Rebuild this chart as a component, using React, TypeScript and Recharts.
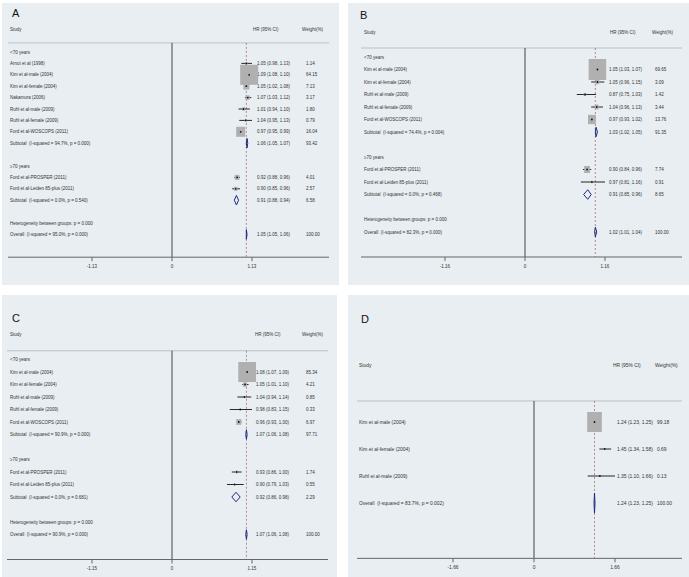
import React from "react";
import { ScatterChart, Scatter, XAxis, YAxis, ReferenceLine, ErrorBar } from "recharts";

// ---------------- Panel A ----------------
const rowsA = [
  "<70 years",
  "Arnot et al (1998)",
  "Kim et al-male (2004)",
  "Kim et al-female (2004)",
  "Nakamura (2006)",
  "Ruhl et al-male (2009)",
  "Ruhl et al-female (2009)",
  "Ford et al-WOSCOPS (2011)",
  "Subtotal  (I-squared = 94.7%, p = 0.000)",
  "",
  "≥70 years",
  "Ford et al-PROSPER (2011)",
  "Ford et al-Leiden 85-plus (2011)",
  "Subtotal  (I-squared = 0.0%, p = 0.540)",
  "",
  "Heterogeneity between groups: p = 0.000",
  "Overall  (I-squared = 95.0%, p = 0.000)",
];
const hrA = [null, 1.05, 1.09, 1.05, 1.07, 1.01, 1.04, 0.97, 1.06, null, null, 0.92, 0.9, 0.91, null, null, 1.05];
const loA = [null, 0.98, 1.08, 1.02, 1.03, 0.94, 0.95, 0.95, 1.05, null, null, 0.88, 0.85, 0.88, null, null, 1.05];
const hiA = [null, 1.13, 1.1, 1.08, 1.12, 1.1, 1.13, 0.99, 1.07, null, null, 0.96, 0.96, 0.94, null, null, 1.06];
const wtA = [null, 1.14, 64.15, 7.13, 3.17, 1.8, 0.79, 16.04, 93.42, null, null, 4.01, 2.57, 6.58, null, null, 100.0];
const ticksA = [-1.13, 0, 1.13];
const tickLabelsA = ["-1.13", "0", "1.13"];

// ---------------- Panel B ----------------
const rowsB = [
  "<70 years",
  "Kim et al-male (2004)",
  "Kim et al-female (2004)",
  "Ruhl et al-male (2009)",
  "Ruhl et al-female (2009)",
  "Ford et al-WOSCOPS (2011)",
  "Subtotal  (I-squared = 74.4%, p = 0.004)",
  "",
  "≥70 years",
  "Ford et al-PROSPER (2011)",
  "Ford et al-Leiden 85-plus (2011)",
  "Subtotal  (I-squared = 0.0%, p = 0.468)",
  "",
  "Heterogeneity between groups: p = 0.000",
  "Overall  (I-squared = 82.3%, p = 0.000)",
];
const hrB = [null, 1.05, 1.05, 0.87, 1.04, 0.97, 1.03, null, null, 0.9, 0.97, 0.91, null, null, 1.02];
const loB = [null, 1.03, 0.96, 0.75, 0.96, 0.93, 1.02, null, null, 0.84, 0.81, 0.85, null, null, 1.01];
const hiB = [null, 1.07, 1.15, 1.03, 1.13, 1.02, 1.05, null, null, 0.96, 1.16, 0.96, null, null, 1.04];
const wtB = [null, 69.65, 3.09, 1.42, 3.44, 13.76, 91.35, null, null, 7.74, 0.91, 8.65, null, null, 100.0];
const ticksB = [-1.16, 0, 1.16];
const tickLabelsB = ["-1.16", "0", "1.16"];

// ---------------- Panel C ----------------
const rowsC = [
  "<70 years",
  "Kim et al-male (2004)",
  "Kim et al-female (2004)",
  "Ruhl et al-male (2009)",
  "Ruhl et al-female (2009)",
  "Ford et al-WOSCOPS (2011)",
  "Subtotal  (I-squared = 90.9%, p = 0.000)",
  "",
  "≥70 years",
  "Ford et al-PROSPER (2011)",
  "Ford et al-Leiden 85-plus (2011)",
  "Subtotal  (I-squared = 0.0%, p = 0.681)",
  "",
  "Heterogeneity between groups: p = 0.000",
  "Overall  (I-squared = 90.9%, p = 0.000)",
];
const hrC = [null, 1.08, 1.05, 1.04, 0.98, 0.96, 1.07, null, null, 0.93, 0.9, 0.92, null, null, 1.07];
const loC = [null, 1.07, 1.01, 0.94, 0.83, 0.93, 1.06, null, null, 0.86, 0.79, 0.86, null, null, 1.06];
const hiC = [null, 1.09, 1.1, 1.14, 1.15, 1.0, 1.08, null, null, 1.0, 1.03, 0.98, null, null, 1.08];
const wtC = [null, 85.34, 4.21, 0.85, 0.33, 6.97, 97.71, null, null, 1.74, 0.55, 2.29, null, null, 100.0];
const ticksC = [-1.15, 0, 1.15];
const tickLabelsC = ["-1.15", "0", "1.15"];

// ---------------- Panel D ----------------
const rowsD = [
  "Kim et al-male (2004)",
  "Kim et al-female (2004)",
  "Ruhl et al-male (2009)",
  "Overall  (I-squared = 83.7%, p = 0.002)",
];
const hrD = [1.24, 1.45, 1.35, 1.24];
const loD = [1.23, 1.34, 1.1, 1.23];
const hiD = [1.25, 1.58, 1.66, 1.25];
const wtD = [99.18, 0.69, 0.13, 100.0];
const ticksD = [-1.66, 0, 1.66];
const tickLabelsD = ["-1.66", "0", "1.66"];

const headerLabels = ["Study", "HR (95% CI)", "Weight(%)"];

// ---------------- styles / layout ----------------
const FONT = '"Liberation Sans", Arial, Helvetica, sans-serif';
const TEXT = "#333333";
const BG = "#e8eef1";
const NAVY = "#1f2a7e";
const BOX = "#b0b0b0";

const layoutA = {
  left: 2, top: 3, width: 337, height: 282,
  x0: 8, x1: 329, zeroPx: 172, tickPx: 252,
  row0: 52, sp: 11.4, axisRow: 18, topRow: -3.5, headerRow: -2, headerLineRow: -0.8,
  xAxisH: 20, cols: { label: 10, hrHead: 253, hr: 257, wHead: 302, w: 306 },
  fs: 4.5, boxW: 18, boxH: 20, dh: 0.42, letterX: 12, letterCy: 13,
};
const layoutB = {
  left: 348, top: 3, width: 341, height: 282,
  x0: 361, x1: 682, zeroPx: 525, tickPx: 605,
  row0: 57, sp: 12.5, axisRow: 16, topRow: -3.5, headerRow: -2, headerLineRow: -0.72,
  xAxisH: 20, cols: { label: 364, hrHead: 610, hr: 609, wHead: 652, w: 655 },
  fs: 4.5, boxW: 17.5, boxH: 21, dh: 0.38, letterX: 360, letterCy: 15,
};
const layoutC = {
  left: 2, top: 295, width: 335, height: 282,
  x0: 7, x1: 328, zeroPx: 172, tickPx: 252,
  row0: 359.5, sp: 12.5, axisRow: 16, topRow: -3.5, headerRow: -2, headerLineRow: -0.7,
  xAxisH: 14, cols: { label: 10, hrHead: 255, hr: 256, wHead: 302, w: 306 },
  fs: 4.5, boxW: 17.7, boxH: 20, dh: 0.38, letterX: 12, letterCy: 318.5,
};
const layoutD = {
  left: 348, top: 295, width: 341, height: 282,
  x0: 357, x1: 682, zeroPx: 534, tickPx: 615,
  row0: 422, sp: 27, axisRow: 5.05, topRow: -2.6, headerRow: -2.11, headerLineRow: -0.78,
  xAxisH: 14, cols: { label: 359, hrHead: 613, hr: 617, wHead: 655, w: 657 },
  fs: 4.9, boxW: 14.7, boxH: 20, dh: 0.37, letterX: 361, letterCy: 319,
};

const f2 = (v: number) => v.toFixed(2);
const isDiamond = (s: string) => s.startsWith("Subtotal") || s.startsWith("Overall");

function ForestPanel(props: any) {
  const { letter, rows, hr, lo, hi, wt, ticks, tickLabels, L } = props;
  const ppu = (L.tickPx - L.zeroPx) / ticks[2];
  const xDomain = [(L.x0 - L.zeroPx) / ppu, (L.x1 - L.zeroPx) / ppu];
  const plotTop = L.row0 + L.topRow * L.sp;
  const plotBottom = L.row0 + L.axisRow * L.sp;
  const margin = {
    left: L.x0 - L.left,
    right: L.left + L.width - L.x1,
    top: plotTop - L.top,
    bottom: L.top + L.height - plotBottom - L.xAxisH,
  };

  const studies: any[] = [];
  const diamonds: any[][] = [];
  rows.forEach((label: string, i: number) => {
    if (hr[i] == null) return;
    if (isDiamond(label)) {
      diamonds.push([
        { x: lo[i], y: i },
        { x: hr[i], y: i - L.dh },
        { x: hi[i], y: i },
        { x: hr[i], y: i + L.dh },
        { x: lo[i], y: i },
      ]);
    } else {
      studies.push({ x: hr[i], y: i, w: wt[i], err: [hr[i] - lo[i], hi[i] - hr[i]] });
    }
  });
  const wMax = Math.max(...studies.map((s) => s.w));
  const overallIdx = rows.findIndex((s: string) => s.startsWith("Overall"));
  const overall = hr[overallIdx];

  // text rows: the header plus every non-empty row, placed through the y scale
  const textRows: any[] = [
    { x: 0, y: L.headerRow, c: [headerLabels[0], headerLabels[1], headerLabels[2]], head: true },
  ];
  rows.forEach((s: string, i: number) => {
    if (!s) return;
    textRows.push({
      x: 0,
      y: i,
      c: [s, hr[i] != null ? `${f2(hr[i])} (${f2(lo[i])}, ${f2(hi[i])})` : "", wt[i] != null ? f2(wt[i]) : ""],
      head: false,
    });
  });

  const tp = (y: number) => ({
    y,
    fontSize: L.fs,
    fill: TEXT,
    fontFamily: FONT,
    dominantBaseline: "central" as any,
    style: { whiteSpace: "pre" as any },
  });

  const textShape = (p: any) => {
    const d = p.payload;
    const y = p.cy;
    const xs = d.head
      ? [L.cols.label, L.cols.hrHead, L.cols.wHead]
      : [L.cols.label, L.cols.hr, L.cols.w];
    return (
      <g>
        {d.c.map((t: string, k: number) =>
          t ? (
            <text key={k} x={xs[k] - L.left} {...tp(y)}>
              {t}
            </text>
          ) : null
        )}
      </g>
    );
  };

  const boxShape = (p: any) => {
    const s = Math.sqrt(p.payload.w / wMax);
    const bw = L.boxW * s;
    const bh = L.boxH * s;
    return <rect x={p.cx - bw / 2} y={p.cy - bh / 2} width={bw} height={bh} fill={BOX} />;
  };
  const dotShape = (p: any) => <circle cx={p.cx} cy={p.cy} r={0.9} fill="#111" />;
  const emptyShape = () => <g />;

  return (
    <div
      style={{
        position: "absolute",
        left: L.left,
        top: L.top,
        width: L.width,
        height: L.height,
        background: BG,
        overflow: "hidden",
      }}
    >
      <div
        style={{
          position: "absolute",
          left: L.letterX - L.left,
          top: L.letterCy - L.top - 5.4,
          fontSize: 11,
          lineHeight: "11px",
          fontFamily: FONT,
          color: "#111",
        }}
      >
        {letter}
      </div>
      <ScatterChart width={L.width} height={L.height} margin={margin} style={{ position: "absolute", left: 0, top: 0 }}>
        <XAxis
          type="number"
          dataKey="x"
          domain={xDomain}
          allowDataOverflow
          ticks={ticks}
          interval={0}
          tickFormatter={(v: number) => {
            const k = ticks.indexOf(v);
            return k >= 0 ? tickLabels[k] : String(v);
          }}
          height={L.xAxisH}
          tickSize={4}
          tickMargin={3.5}
          axisLine={{ stroke: "#666", strokeWidth: 1 }}
          tickLine={{ stroke: "#666", strokeWidth: 1 }}
          tick={{ fontSize: L.fs, fill: TEXT, fontFamily: FONT }}
        />
        <YAxis
          type="number"
          dataKey="y"
          domain={[L.topRow, L.axisRow]}
          reversed
          allowDataOverflow
          hide
        />
        <ReferenceLine y={L.headerLineRow} stroke="#b9c2c7" strokeWidth={1} />
        <ReferenceLine
          segment={[
            { x: 0, y: L.headerLineRow },
            { x: 0, y: L.axisRow },
          ]}
          stroke="#444"
          strokeWidth={1}
        />
        <ReferenceLine
          segment={[
            { x: overall, y: L.headerLineRow },
            { x: overall, y: L.axisRow },
          ]}
          stroke="#9a6262"
          strokeWidth={0.7}
          strokeDasharray="2 2"
        />
        <Scatter data={textRows} shape={textShape} isAnimationActive={false} />
        <Scatter data={studies} shape={boxShape} isAnimationActive={false} />
        <Scatter data={studies} shape={dotShape} isAnimationActive={false}>
          <ErrorBar dataKey="err" direction="x" width={0} stroke="#111" strokeWidth={0.9} isAnimationActive={false} />
        </Scatter>
        {diamonds.map((d, k) => (
          <Scatter
            key={k}
            data={d}
            shape={emptyShape}
            line={{ stroke: NAVY, strokeWidth: 1 }}
            lineType="joint"
            isAnimationActive={false}
          />
        ))}
      </ScatterChart>
    </div>
  );
}

export default function App() {
  return (
    <div style={{ position: "absolute", left: 0, top: 0, width: 689, height: 577, background: "#ffffff", overflow: "hidden" }}>
      <ForestPanel letter="A" rows={rowsA} hr={hrA} lo={loA} hi={hiA} wt={wtA} ticks={ticksA} tickLabels={tickLabelsA} L={layoutA} />
      <ForestPanel letter="B" rows={rowsB} hr={hrB} lo={loB} hi={hiB} wt={wtB} ticks={ticksB} tickLabels={tickLabelsB} L={layoutB} />
      <ForestPanel letter="C" rows={rowsC} hr={hrC} lo={loC} hi={hiC} wt={wtC} ticks={ticksC} tickLabels={tickLabelsC} L={layoutC} />
      <ForestPanel letter="D" rows={rowsD} hr={hrD} lo={loD} hi={hiD} wt={wtD} ticks={ticksD} tickLabels={tickLabelsD} L={layoutD} />
    </div>
  );
}
